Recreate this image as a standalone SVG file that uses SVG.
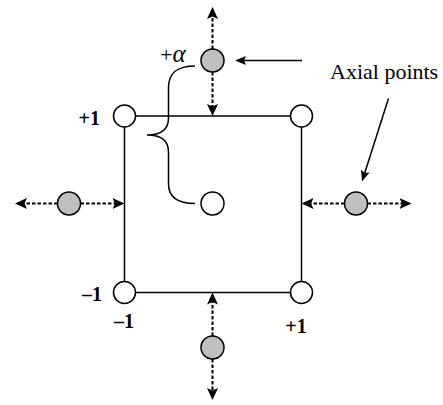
<svg xmlns="http://www.w3.org/2000/svg" width="443" height="405" viewBox="0 0 443 405">
  <style>
    .edge { fill: none; stroke: #000; stroke-width: 1.5; }
    .dot { fill: none; stroke: #000; stroke-width: 2; stroke-dasharray: 3.5 2; }
    .solid { fill: none; stroke: #000; stroke-width: 1.5; }
    .pt { fill: #fff; stroke: #000; stroke-width: 1.5; }
    .ax { fill: #c0c0c0; stroke: #000; stroke-width: 1.5; }
    .lbl { font-family: "Liberation Serif", "Times New Roman", serif; font-weight: bold; font-size: 20px; fill: #000; }
    .txt { font-family: "Liberation Serif", "Times New Roman", serif; font-size: 22px; fill: #000; }
  </style>
  <defs>
    <marker id="ah" viewBox="0 0 12 11" markerUnits="userSpaceOnUse" markerWidth="12" markerHeight="11" refX="8" refY="5.5" orient="auto">
      <path d="M0,0 L12,5.5 L0,11 L2.5,5.5 Z" fill="#000"/>
    </marker>
    <marker id="ah2" viewBox="0 0 11 9" markerUnits="userSpaceOnUse" markerWidth="11" markerHeight="9" refX="7" refY="4.5" orient="auto">
      <path d="M0,0 L11,4.5 L0,9 L2,4.5 Z" fill="#000"/>
    </marker>
  </defs>

  <g id="square">
    <rect class="edge" x="124.5" y="116" width="177" height="176.5"/>
  </g>

  <g id="connectors">
    <line class="dot" x1="212.5" y1="49" x2="212.5" y2="11" marker-end="url(#ah)"/>
    <line class="dot" x1="212.5" y1="72" x2="212.5" y2="112" marker-end="url(#ah)"/>
    <line class="dot" x1="57.5" y1="203.5" x2="19" y2="203.5" marker-end="url(#ah)"/>
    <line class="dot" x1="80.5" y1="203.5" x2="120.5" y2="203.5" marker-end="url(#ah)"/>
    <line class="dot" x1="344.5" y1="203.5" x2="305.5" y2="203.5" marker-end="url(#ah)"/>
    <line class="dot" x1="367.5" y1="203.5" x2="407.5" y2="203.5" marker-end="url(#ah)"/>
    <line class="dot" x1="212.5" y1="336" x2="212.5" y2="296.5" marker-end="url(#ah)"/>
    <line class="dot" x1="212.5" y1="359" x2="212.5" y2="396" marker-end="url(#ah)"/>
    <line class="solid" x1="302" y1="60.5" x2="239" y2="60.5" marker-end="url(#ah2)"/>
    <line class="solid" x1="388.5" y1="98.5" x2="363.2" y2="177.7" marker-end="url(#ah2)"/>
    <path id="brace" class="solid" d="M195,66 C178,66 168.5,72 168.5,88 L168.5,118 C168.5,130 160,135 147,135 C160,135 168.5,140 168.5,152 L168.5,184 C168.5,198 178,203.5 195,203.5"/>
  </g>

  <g id="corner-tl"><circle class="pt" cx="124.5" cy="116" r="11"/></g>
  <g id="corner-tr"><circle class="pt" cx="301.5" cy="116" r="11"/></g>
  <g id="corner-bl"><circle class="pt" cx="124.5" cy="292.5" r="11"/></g>
  <g id="corner-br"><circle class="pt" cx="301.5" cy="292.5" r="11"/></g>
  <g id="center"><circle class="pt" cx="212.5" cy="203.5" r="11.5"/></g>

  <g id="axial-top"><circle class="ax" cx="212.5" cy="60.5" r="11.5"/></g>
  <g id="axial-left"><circle class="ax" cx="69" cy="203.5" r="11.5"/></g>
  <g id="axial-right"><circle class="ax" cx="356" cy="203.5" r="11.5"/></g>
  <g id="axial-bottom"><circle class="ax" cx="212.5" cy="347.5" r="11.5"/></g>

  <g id="labels">
    <text class="lbl" x="100" y="125" text-anchor="end">+1</text>
    <text class="lbl" x="102" y="301" text-anchor="end">–1</text>
    <text class="lbl" x="124" y="328" text-anchor="middle">–1</text>
    <text class="lbl" x="296" y="333" text-anchor="middle">+1</text>
    <text class="txt" x="160" y="62">+<tspan font-style="italic" font-size="25px">α</tspan></text>
    <text class="txt" x="330" y="79">Axial points</text>
  </g>
</svg>
